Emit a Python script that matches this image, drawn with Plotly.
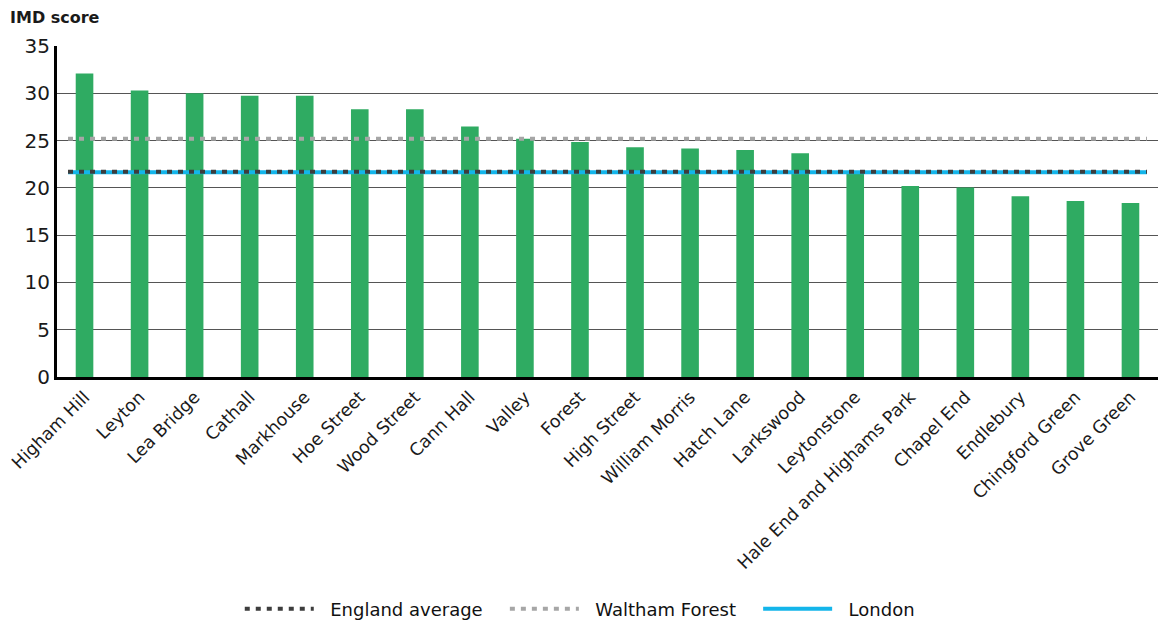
import plotly.graph_objects as go

wards = ["Higham Hill", "Leyton", "Lea Bridge", "Cathall", "Markhouse", "Hoe Street",
         "Wood Street", "Cann Hall", "Valley", "Forest", "High Street", "William Morris",
         "Hatch Lane", "Larkswood", "Leytonstone", "Hale End and Highams Park",
         "Chapel End", "Endlebury", "Chingford Green", "Grove Green"]
imd_scores = [32.1, 30.3, 30.0, 29.75, 29.75, 28.3, 28.3, 26.5, 25.2, 24.85, 24.3, 24.15,
              24.0, 23.65, 21.5, 20.2, 20.05, 19.1, 18.6, 18.4]

england_avg = 21.7
waltham_forest = 25.2
london = 21.65

FONT = "DejaVu Sans"
NB = "\u00a0"

fig = go.Figure()
fig.add_trace(go.Bar(x=wards, y=imd_scores, marker=dict(color="#2fab62", line=dict(width=0)),
                     width=0.32, showlegend=False))

n = len(wards)
line_x = [-0.3, n - 1 + 0.3]
fig.add_trace(go.Scatter(x=line_x, y=[london, london], mode="lines",
                         name=NB * 2 + "London",
                         xaxis="x2", line=dict(color="#13b5ea", width=4), legendrank=3))
fig.add_trace(go.Scatter(x=line_x, y=[england_avg, england_avg], mode="lines",
                         name=NB * 2 + "England average" + NB * 3, xaxis="x2",
                         line=dict(color="#3d3d3d", width=4, dash="5px,6px"), legendrank=1))
fig.add_trace(go.Scatter(x=line_x, y=[waltham_forest, waltham_forest], mode="lines",
                         name=NB * 2 + "Waltham Forest" + NB * 3, xaxis="x2",
                         line=dict(color="#a6a6a6", width=4, dash="5px,6px"), legendrank=2))

fig.update_layout(
    width=1161, height=623,
    margin=dict(l=57, r=3, t=46, b=246, autoexpand=False),
    plot_bgcolor="white", paper_bgcolor="white",
    font=dict(family=FONT, color="#1a1a1a"),
    xaxis=dict(type="category", tickangle=-45, tickfont=dict(size=17.5, color="#1a1a1a"),
               showgrid=False, showline=True, linecolor="black", linewidth=3,
               ticks="", range=[-0.5, n - 0.5], automargin=False),
    xaxis2=dict(overlaying="x", range=[-0.5, n - 0.5], visible=False),
    yaxis=dict(range=[0, 35], dtick=5, tickfont=dict(size=20, color="#1a1a1a"),
               showgrid=True, gridcolor="#555555", gridwidth=1,
               showline=True, linecolor="black", linewidth=3, zeroline=False,
               ticks="", ticklen=0, automargin=False),
    legend=dict(orientation="h", x=0.166, xanchor="left", y=-0.701, yanchor="middle",
                font=dict(size=18, color="#111111"), traceorder="normal",
                itemwidth=69),
    annotations=[dict(text="<b>IMD score</b>", xref="paper", yref="paper", x=-49/1101,
                      y=1.0876, xanchor="left", yanchor="middle", showarrow=False,
                      font=dict(size=16, family=FONT, color="#1a1a1a"))],
)

fig.write_html("out.html", config={"displayModeBar": False},
               post_script="document.body.style.margin='0';")
